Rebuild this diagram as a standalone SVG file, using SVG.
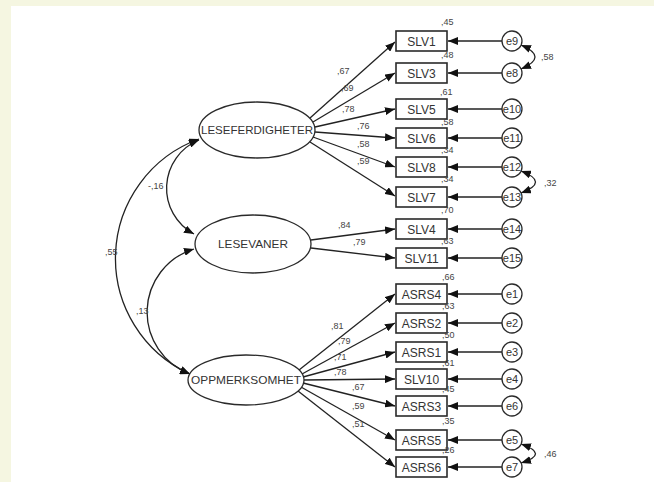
<svg xmlns="http://www.w3.org/2000/svg" width="654" height="482" viewBox="0 0 654 482">
<style>
.bx{fill:#fff;stroke:#2a2a2a;stroke-width:1.6}
.el{fill:#fff;stroke:#2a2a2a;stroke-width:1.3}
.ec{fill:#fff;stroke:#2a2a2a;stroke-width:1.3}
.t{font-family:"Liberation Sans",Arial,sans-serif;fill:#333;text-anchor:middle}
.bt{font-size:12px}
.lt{font-size:11px}
.et{font-size:11px}
.sm{font-family:"Liberation Sans",Arial,sans-serif;fill:#444;font-size:9px}
.ln{fill:none;stroke:#222;stroke-width:1.3}
.ar{marker-end:url(#ah)}
.dbl{fill:none;stroke:#222;stroke-width:1.3;marker-start:url(#ah2);marker-end:url(#ah2)}
</style>
<defs>
<marker id="ah" viewBox="0 0 10 8" refX="10" refY="4" markerWidth="10" markerHeight="8" markerUnits="userSpaceOnUse" orient="auto"><path d="M0,0 L10,4 L0,8 z" fill="#111"/></marker>
<marker id="ah2" viewBox="0 0 10 8" refX="10" refY="4" markerWidth="10" markerHeight="8" markerUnits="userSpaceOnUse" orient="auto-start-reverse"><path d="M0,0 L10,4 L0,8 z" fill="#111"/></marker>
</defs>
<rect x="0" y="0" width="654" height="482" fill="#f5f6e1"/>
<rect x="11" y="6" width="643" height="476" fill="#fff"/>

<g id="connectors">
<path class="ln ar" d="M310,118 L395,42"/>
<path class="ln ar" d="M313,122 L395,73"/>
<path class="ln ar" d="M315,127 L395,109"/>
<path class="ln ar" d="M315,132 L395,138"/>
<path class="ln ar" d="M313,137 L395,167"/>
<path class="ln ar" d="M310,142 L395,196"/>
<path class="ln ar" d="M311,240 L395,229"/>
<path class="ln ar" d="M311,248 L395,258"/>
<path class="ln ar" d="M299,370 L395,294"/>
<path class="ln ar" d="M302,374 L395,323"/>
<path class="ln ar" d="M303,377 L395,352"/>
<path class="ln ar" d="M304,380 L395,379"/>
<path class="ln ar" d="M303,383 L395,406"/>
<path class="ln ar" d="M301,387 L395,440"/>
<path class="ln ar" d="M298,391 L395,467"/>
<path class="ln ar" d="M502,41 L448,41"/>
<path class="ln ar" d="M502,73 L448,73"/>
<path class="ln ar" d="M502,109 L448,109"/>
<path class="ln ar" d="M502,138 L448,138"/>
<path class="ln ar" d="M502,167 L448,167"/>
<path class="ln ar" d="M502,197 L448,197"/>
<path class="ln ar" d="M502,229 L448,229"/>
<path class="ln ar" d="M502,258 L448,258"/>
<path class="ln ar" d="M502,294 L448,294"/>
<path class="ln ar" d="M502,323 L448,323"/>
<path class="ln ar" d="M502,352 L448,352"/>
<path class="ln ar" d="M502,379 L448,379"/>
<path class="ln ar" d="M502,406 L448,406"/>
<path class="ln ar" d="M502,440 L448,440"/>
<path class="ln ar" d="M502,467 L448,467"/>
<path class="dbl" d="M521,45 Q549,57 521,69"/>
<path class="dbl" d="M521,171 Q550,182 521,193"/>
<path class="dbl" d="M521,444 Q550,454 521,463"/>
<path class="dbl" d="M199,139 A127,127 0 0 0 190,374"/>
<path class="dbl" d="M199,140 A52,52 0 0 0 194,234"/>
<path class="dbl" d="M194,249 A66,66 0 0 0 190,374"/>
</g>

<g id="LESEFERDIGHETER"><ellipse class="el" cx="257" cy="130" rx="58" ry="28"/><text class="t lt" x="257" y="134" textLength="112" lengthAdjust="spacingAndGlyphs">LESEFERDIGHETER</text></g>
<g id="LESEVANER"><ellipse class="el" cx="253" cy="244" rx="58" ry="29"/><text class="t lt" x="253" y="248" textLength="70" lengthAdjust="spacingAndGlyphs">LESEVANER</text></g>
<g id="OPPMERKSOMHET"><ellipse class="el" cx="246" cy="380" rx="58" ry="25"/><text class="t lt" x="246" y="384" textLength="110" lengthAdjust="spacingAndGlyphs">OPPMERKSOMHET</text></g>

<g id="SLV1"><rect class="bx" x="396" y="31" width="51" height="20"/><text class="t bt" x="421.5" y="45.5">SLV1</text></g>
<g id="SLV3"><rect class="bx" x="396" y="63" width="51" height="20"/><text class="t bt" x="421.5" y="77.5">SLV3</text></g>
<g id="SLV5"><rect class="bx" x="396" y="99" width="51" height="20"/><text class="t bt" x="421.5" y="113.5">SLV5</text></g>
<g id="SLV6"><rect class="bx" x="396" y="128" width="51" height="20"/><text class="t bt" x="421.5" y="142.5">SLV6</text></g>
<g id="SLV8"><rect class="bx" x="396" y="157" width="51" height="20"/><text class="t bt" x="421.5" y="171.5">SLV8</text></g>
<g id="SLV7"><rect class="bx" x="396" y="187" width="51" height="20"/><text class="t bt" x="421.5" y="201.5">SLV7</text></g>
<g id="SLV4"><rect class="bx" x="396" y="219" width="51" height="20"/><text class="t bt" x="421.5" y="233.5">SLV4</text></g>
<g id="SLV11"><rect class="bx" x="396" y="248" width="51" height="20"/><text class="t bt" x="421.5" y="262.5">SLV11</text></g>
<g id="ASRS4"><rect class="bx" x="396" y="284" width="51" height="20"/><text class="t bt" x="421.5" y="298.5">ASRS4</text></g>
<g id="ASRS2"><rect class="bx" x="396" y="313" width="51" height="20"/><text class="t bt" x="421.5" y="327.5">ASRS2</text></g>
<g id="ASRS1"><rect class="bx" x="396" y="342" width="51" height="20"/><text class="t bt" x="421.5" y="356.5">ASRS1</text></g>
<g id="SLV10"><rect class="bx" x="396" y="369" width="51" height="20"/><text class="t bt" x="421.5" y="383.5">SLV10</text></g>
<g id="ASRS3"><rect class="bx" x="396" y="396" width="51" height="20"/><text class="t bt" x="421.5" y="410.5">ASRS3</text></g>
<g id="ASRS5"><rect class="bx" x="396" y="430" width="51" height="20"/><text class="t bt" x="421.5" y="444.5">ASRS5</text></g>
<g id="ASRS6"><rect class="bx" x="396" y="457" width="51" height="20"/><text class="t bt" x="421.5" y="471.5">ASRS6</text></g>

<g id="e9"><circle class="ec" cx="512" cy="41" r="10"/><text class="t et" x="512" y="45">e9</text></g>
<g id="e8"><circle class="ec" cx="512" cy="73" r="10"/><text class="t et" x="512" y="77">e8</text></g>
<g id="e10"><circle class="ec" cx="512" cy="109" r="10"/><text class="t et" x="512" y="113">e10</text></g>
<g id="e11"><circle class="ec" cx="512" cy="138" r="10"/><text class="t et" x="512" y="142">e11</text></g>
<g id="e12"><circle class="ec" cx="512" cy="167" r="10"/><text class="t et" x="512" y="171">e12</text></g>
<g id="e13"><circle class="ec" cx="512" cy="197" r="10"/><text class="t et" x="512" y="201">e13</text></g>
<g id="e14"><circle class="ec" cx="512" cy="229" r="10"/><text class="t et" x="512" y="233">e14</text></g>
<g id="e15"><circle class="ec" cx="512" cy="258" r="10"/><text class="t et" x="512" y="262">e15</text></g>
<g id="e1"><circle class="ec" cx="512" cy="294" r="10"/><text class="t et" x="512" y="298">e1</text></g>
<g id="e2"><circle class="ec" cx="512" cy="323" r="10"/><text class="t et" x="512" y="327">e2</text></g>
<g id="e3"><circle class="ec" cx="512" cy="352" r="10"/><text class="t et" x="512" y="356">e3</text></g>
<g id="e4"><circle class="ec" cx="512" cy="379" r="10"/><text class="t et" x="512" y="383">e4</text></g>
<g id="e6"><circle class="ec" cx="512" cy="406" r="10"/><text class="t et" x="512" y="410">e6</text></g>
<g id="e5"><circle class="ec" cx="512" cy="440" r="10"/><text class="t et" x="512" y="444">e5</text></g>
<g id="e7"><circle class="ec" cx="512" cy="467" r="10"/><text class="t et" x="512" y="471">e7</text></g>

<g id="labels">
<text class="sm" x="337" y="74">,67</text>
<text class="sm" x="341" y="91">,69</text>
<text class="sm" x="342" y="112">,78</text>
<text class="sm" x="357" y="129">,76</text>
<text class="sm" x="357" y="147">,58</text>
<text class="sm" x="357" y="164">,59</text>
<text class="sm" x="338" y="228">,84</text>
<text class="sm" x="353" y="245">,79</text>
<text class="sm" x="331" y="329">,81</text>
<text class="sm" x="338" y="344">,79</text>
<text class="sm" x="334" y="360">,71</text>
<text class="sm" x="334" y="375">,78</text>
<text class="sm" x="352" y="390">,67</text>
<text class="sm" x="352" y="409">,59</text>
<text class="sm" x="352" y="427">,51</text>
<text class="sm" x="441" y="25">,45</text>
<text class="sm" x="441" y="58">,48</text>
<text class="sm" x="440" y="95">,61</text>
<text class="sm" x="441" y="125">,58</text>
<text class="sm" x="441" y="153">,34</text>
<text class="sm" x="441" y="182">,34</text>
<text class="sm" x="441" y="213">,70</text>
<text class="sm" x="441" y="244">,63</text>
<text class="sm" x="442" y="280">,66</text>
<text class="sm" x="442" y="309">,63</text>
<text class="sm" x="442" y="338">,50</text>
<text class="sm" x="442" y="366">,61</text>
<text class="sm" x="442" y="392">,45</text>
<text class="sm" x="442" y="424">,35</text>
<text class="sm" x="442" y="453">,26</text>
<text class="sm" x="541" y="60">,58</text>
<text class="sm" x="544" y="186">,32</text>
<text class="sm" x="544" y="457">,46</text>
<text class="sm" x="105" y="255">,55</text>
<text class="sm" x="148" y="189">-,16</text>
<text class="sm" x="136" y="314">,13</text>
</g>
</svg>
